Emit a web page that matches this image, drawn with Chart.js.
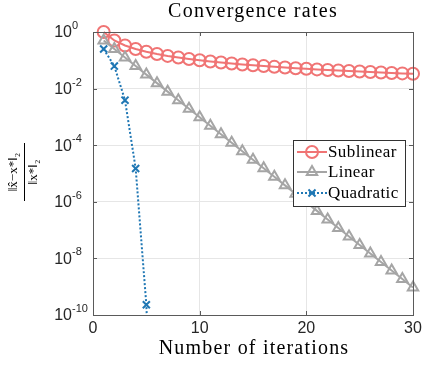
<!DOCTYPE html>
<html>
<head>
<meta charset="utf-8">
<script src="https://cdn.jsdelivr.net/npm/chart.js@4/dist/chart.umd.min.js"></script>
<style>
  html, body { margin: 0; padding: 0; background: #fff; }
  canvas { display: block; }
</style>
</head>
<body>
<canvas id="conv" width="434" height="368"></canvas>
<script>
// iterations 1..30
var iters = [1,2,3,4,5,6,7,8,9,10,11,12,13,14,15,16,17,18,19,20,21,22,23,24,25,26,27,28,29,30];

var sublinear = [1, 0.5, 0.3333, 0.25, 0.2, 0.1667, 0.1429, 0.125, 0.1111, 0.1,
                 0.0909, 0.0833, 0.0769, 0.0714, 0.0667, 0.0625, 0.0588, 0.0556, 0.0526, 0.05,
                 0.0476, 0.0455, 0.0435, 0.0417, 0.04, 0.0385, 0.037, 0.0357, 0.0345, 0.0333];

var linear = [0.5, 0.25, 0.125, 0.0625, 0.03125, 0.0156, 0.0078, 0.0039, 0.00195, 9.77e-4,
              4.88e-4, 2.44e-4, 1.22e-4, 6.10e-5, 3.05e-5, 1.53e-5, 7.63e-6, 3.81e-6, 1.91e-6, 9.54e-7,
              4.77e-7, 2.38e-7, 1.19e-7, 5.96e-8, 2.98e-8, 1.49e-8, 7.45e-9, 3.73e-9, 1.86e-9, 9.3e-10];

// the 6th value falls far below the axis, only its line segment shows
var quadIters = [1, 2, 3, 4, 5, 6];
var quadratic = [0.25, 0.0625, 0.0039, 1.5e-5, 2.3e-10, 5.3e-20];

var xTicks = [0, 10, 20, 30];
var yTicks = [1e-10, 1e-8, 1e-6, 1e-4, 1e-2, 1];
var yTickExp = ['-10', '-8', '-6', '-4', '-2', '0'];

var seriesNames = ['Sublinear', 'Linear', 'Quadratic'];

function pts(xs, ys){
    var out = [];
    for(var i = 0; i < xs.length; i++){
        out.push({x: xs[i], y: ys[i]});
    }
    return out;
}

var SERIF = '"Liberation Serif", "DejaVu Serif", serif';
var SANS = '"Liberation Sans", Arial, sans-serif';

var decor = {
    id: 'decor',
    beforeDraw: function(chart){
        var ctx = chart.ctx;
        ctx.save();
        ctx.fillStyle = '#fff';
        ctx.fillRect(0, 0, chart.width, chart.height);
        ctx.restore();
    },
    afterDraw: function(chart){
        var ctx = chart.ctx;
        var a = chart.chartArea;
        var xs = chart.scales.x, ys = chart.scales.y;
        ctx.save();

        // axes box
        ctx.strokeStyle = '#5a5a5a';
        ctx.lineWidth = 1;
        ctx.strokeRect(a.left + 0.5, a.top + 0.5, a.right - a.left, a.bottom - a.top);

        // inward ticks on all four sides
        ctx.beginPath();
        xTicks.forEach(function(v){
            var px = Math.round(xs.getPixelForValue(v)) + 0.5;
            ctx.moveTo(px, a.bottom); ctx.lineTo(px, a.bottom - 4);
            ctx.moveTo(px, a.top); ctx.lineTo(px, a.top + 4);
        });
        yTicks.forEach(function(v){
            var py = Math.round(ys.getPixelForValue(v)) + 0.5;
            ctx.moveTo(a.left, py); ctx.lineTo(a.left + 4, py);
            ctx.moveTo(a.right, py); ctx.lineTo(a.right - 4, py);
        });
        ctx.stroke();

        // y tick labels 10^n
        ctx.fillStyle = '#262626';
        ctx.textBaseline = 'middle';
        yTicks.forEach(function(v, i){
            var py = ys.getPixelForValue(v);
            ctx.font = '16px ' + SANS;
            ctx.textAlign = 'right';
            ctx.fillText('10', 72, py + 1);
            ctx.font = '11px ' + SANS;
            ctx.textAlign = 'left';
            ctx.fillText(yTickExp[i], 72, py - 6);
        });

        // title and x title
        ctx.fillStyle = '#000';
        ctx.textAlign = 'center';
        ctx.textBaseline = 'alphabetic';
        ctx.font = '20px ' + SERIF;
        ctx.letterSpacing = '1.3px';
        ctx.fillText('Convergence rates', 253, 17);
        ctx.letterSpacing = '1.2px';
        ctx.fillText('Number of iterations', 254, 354);
        ctx.letterSpacing = '0px';

        // y title as a fraction
        ctx.save();
        ctx.translate(24, 172);
        ctx.rotate(-Math.PI / 2);
        ctx.font = '13px ' + SERIF;
        ctx.textAlign = 'center';
        ctx.textBaseline = 'middle';
        ctx.fillText('\u2016x\u0302\u2212x*\u2016\u2082', 0, -10);
        ctx.fillText('\u2016x*\u2016\u2082', 0, 10);
        ctx.beginPath();
        ctx.moveTo(-29, 0.5); ctx.lineTo(29, 0.5);
        ctx.lineWidth = 1;
        ctx.strokeStyle = '#000';
        ctx.stroke();
        ctx.restore();

        // legend box
        var lx = 293, ly = 140, lw = 112, lh = 66;
        ctx.fillStyle = '#fff';
        ctx.fillRect(lx, ly, lw, lh);
        ctx.strokeStyle = '#333';
        ctx.lineWidth = 1;
        ctx.strokeRect(lx + 0.5, ly + 0.5, lw, lh);
        var rows = [152, 172, 193];
        chart.data.datasets.forEach(function(ds, i){
            var y = rows[i];
            ctx.save();
            ctx.strokeStyle = ds.borderColor;
            ctx.lineWidth = ds.borderWidth;
            ctx.setLineDash(ds.borderDash || []);
            ctx.beginPath();
            ctx.moveTo(297, y); ctx.lineTo(327, y);
            ctx.stroke();
            ctx.setLineDash([]);
            ctx.fillStyle = 'rgba(0,0,0,0)';
            ctx.lineWidth = ds.pointBorderWidth;
            Chart.helpers.drawPoint(ctx, {
                pointStyle: ds.pointStyle, rotation: 0,
                radius: ds.pointRadius, borderWidth: ds.pointBorderWidth
            }, 312, y);
            ctx.restore();
            ctx.fillStyle = '#000';
            ctx.textAlign = 'left';
            ctx.textBaseline = 'middle';
            ctx.font = '17px ' + SERIF;
            ctx.letterSpacing = '0.4px';
            ctx.fillText(ds.label, 328, y + 1);
            ctx.letterSpacing = '0px';
        });

        ctx.restore();
    }
};

var chart = new Chart(document.getElementById('conv'), {
    type: 'line',
    data: {
        datasets: [{
            label: seriesNames[0],
            data: pts(iters, sublinear),
            order: 2,
            clip: false,
            borderColor: '#f07474',
            backgroundColor: 'rgba(0,0,0,0)',
            borderWidth: 2,
            pointStyle: 'circle',
            pointRadius: 6,
            pointBorderWidth: 2,
            pointBorderColor: '#f07474',
            pointBackgroundColor: 'rgba(0,0,0,0)'
        }, {
            label: seriesNames[1],
            data: pts(iters, linear),
            order: 1,
            clip: false,
            borderColor: '#a5a5a5',
            backgroundColor: 'rgba(0,0,0,0)',
            borderWidth: 2,
            pointStyle: 'triangle',
            pointRadius: 6,
            pointBorderWidth: 2,
            pointBorderColor: '#a5a5a5',
            pointBackgroundColor: 'rgba(0,0,0,0)'
        }, {
            label: seriesNames[2],
            data: pts(quadIters, quadratic),
            order: 0,
            borderColor: '#1f77b4',
            backgroundColor: 'rgba(0,0,0,0)',
            borderWidth: 2,
            borderDash: [2, 2],
            pointStyle: 'crossRot',
            pointRadius: 5,
            pointBorderWidth: 2,
            pointBorderColor: '#1f77b4',
            pointBackgroundColor: 'rgba(0,0,0,0)'
        }]
    },
    options: {
        responsive: false,
        animation: false,
        events: [],
        layout: { padding: { top: 32, right: 21, left: 0, bottom: 0 } },
        plugins: {
            legend: { display: false },
            title: { display: false },
            tooltip: { enabled: false }
        },
        scales: {
            x: {
                type: 'linear',
                min: 0, max: 30,
                afterBuildTicks: function(scale){
                    scale.ticks = xTicks.map(function(v){ return {value: v}; });
                },
                afterFit: function(scale){ scale.height = 53; },
                grid: { color: '#e6e6e6', drawTicks: false },
                border: { display: false },
                ticks: {
                    padding: 4,
                    color: '#262626',
                    font: { family: SANS, size: 16 }
                }
            },
            y: {
                type: 'logarithmic',
                min: 1e-10, max: 1,
                afterBuildTicks: function(scale){
                    scale.ticks = yTicks.map(function(v){ return {value: v}; });
                },
                afterFit: function(scale){ scale.width = 93; },
                grid: { color: '#e6e6e6', drawTicks: false },
                border: { display: false },
                ticks: { display: false }
            }
        }
    },
    plugins: [decor]
});
</script>
</body>
</html>
